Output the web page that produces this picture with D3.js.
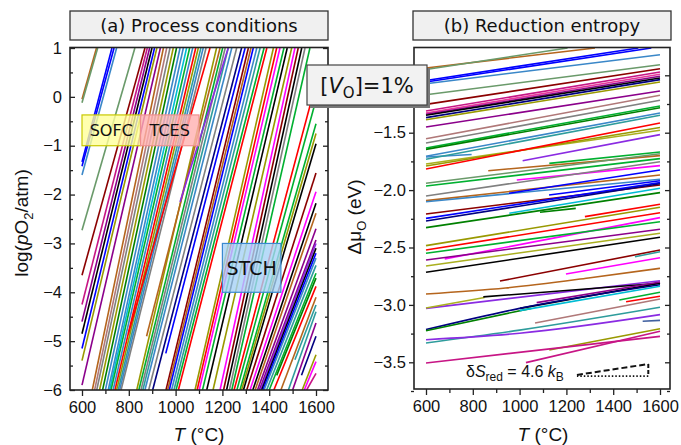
<!DOCTYPE html>
<html>
<head>
<meta charset="utf-8">
<script src="https://cdn.jsdelivr.net/npm/d3@7"></script>
<style>
  body { margin: 0; background: #fff; }
  text { fill: #111; }
</style>
</head>
<body>
<svg id="chart" width="681" height="445"></svg>
<script>
// ---------- data ----------
const tempTicks = [600, 800, 1000, 1200, 1400, 1600];
const tempMinorTicks = [700, 900, 1100, 1300, 1500];
const pO2Ticks = [1, 0, -1, -2, -3, -4, -5, -6];
const pO2MinorTicks = [0.5, -0.5, -1.5, -2.5, -3.5, -4.5, -5.5];
const muTicks = [-1.0, -1.5, -2.0, -2.5, -3.0, -3.5];
const muMinorTicks = [-1.25, -1.75, -2.25, -2.75, -3.25, -3.75];
// the -1.0 tick label sits under the [V_O] badge
const muHiddenLabels = [-1.0];

// log(pO2/atm) vs T (°C) for each compound: [T, logpO2] points
const pO2Curves = [
  [[600,-0.05],[662,1]], [[600,-0.12],[667,1]], [[600,-1.33],[728,1]], [[600,-1.42],[737,1]],
  [[600,-1.6],[748,1]], [[600,-2.73],[826,1]], [[600,-3.65],[869,1]], [[600,-4.25],[879,1]],
  [[600,-4.6],[889,1]], [[600,-4.85],[899,1]], [[600,-5.15],[910,1]], [[600,-5.4],[920,1]],
  [[600,-5.9],[935,1]],
  [[644,-6],[948,1]], [[654,-6],[962,1]], [[663,-6],[976,1]], [[675,-6],[990,1]],
  [[688,-6],[1004,1]], [[700,-6],[1019,1]], [[712,-6],[1033,1]], [[718,-6],[1047,1]],
  [[724,-6],[1060,1]], [[733,-6],[1073,1]], [[741,-6],[1086,1]], [[748,-6],[1097,1]],
  [[755,-6],[1108,1]], [[761,-6],[1118,1]], [[767,-6],[1130,1]],
  [[798,-4.85],[1147,1]], [[834,-6],[1175,1]], [[843,-6],[1201,1]], [[852,-6],[1212,1]],
  [[860,-6],[1225,1]], [[869,-6],[1240,1]], [[876,-4.9],[1190,1]], [[885,-6],[1261,1]],
  [[902,-6],[1282,1]], [[958,-5.25],[1297,1]], [[959,-6],[1311,1]], [[966,-6],[1322,1]],
  [[973,-6],[1332,1]], [[983,-6],[1347,1]], [[993,-6],[1361,1]], [[1002,-6],[1378,1]],
  [[1012,-6],[1390,1]], [[1019,-2.15],[1225,1]], [[1083,-6],[1418,1]], [[1092,-6],[1432,1]],
  [[1101,-6],[1446,1]], [[1115,-6],[1463,1]], [[1133,-6],[1477,1]], [[1160,-6],[1496,1]],
  [[1190,-6],[1510,1]], [[1205,-6],[1524,1]], [[1218,-6],[1539,1]], [[1230,-6],[1553,1]],
  [[1240,-6],[1574,1]],
  [[1250,-6],[1600,0.28]], [[1262,-6],[1600,-0.06]], [[1275,-6],[1600,-0.55]], [[1282,-6],[1600,-0.75]],
  [[1290,-6],[1600,-0.96]], [[1304,-6],[1600,-1.56]], [[1318,-6],[1600,-1.94]], [[1330,-6],[1600,-2.18]],
  [[1340,-6],[1600,-2.38]], [[1350,-6],[1600,-2.7]], [[1358,-6],[1600,-2.93]], [[1363,-6],[1600,-3.0]],
  [[1368,-6],[1600,-3.1]], [[1373,-6],[1600,-3.2]], [[1378,-6],[1600,-3.3]], [[1389,-6],[1600,-3.45]],
  [[1400,-6],[1600,-3.61]], [[1432,-5.7],[1600,-3.71]], [[1420,-6],[1600,-3.88]], [[1450,-6],[1600,-4.1]],
  [[1482,-6],[1600,-4.4]], [[1510,-5.38],[1600,-4.26]], [[1500,-6],[1600,-4.63]], [[1538,-5.7],[1600,-4.9]],
  [[1541,-6],[1600,-5.28]], [[1550,-6],[1600,-5.42]], [[1560,-6],[1600,-5.66]]
];

// oxygen chemical potential Δμ_O (eV) vs T (°C): [T, Δμ_O] points
const muCurves = [
  [[600,-0.937],[1322,-0.762]], [[600,-0.95],[1205,-0.762]], [[600,-1.045],[1507,-0.762]],
  [[600,-1.058],[1563,-0.762]], [[600,-1.073],[1600,-0.821]], [[600,-1.169],[1600,-0.908]],
  [[600,-1.253],[1600,-0.943]], [[600,-1.311],[1600,-0.971]], [[600,-1.328],[1600,-0.991]],
  [[600,-1.340],[1600,-1.009]], [[600,-1.348],[1600,-1.023]], [[600,-1.369],[1600,-1.038]],
  [[600,-1.387],[1600,-1.058]], [[600,-1.450],[1600,-1.137]], [[600,-1.552],[1600,-1.174]],
  [[600,-1.590],[1600,-1.218]], [[600,-1.633],[1600,-1.267]], [[600,-1.645],[1600,-1.282]],
  [[600,-1.705],[1600,-1.328]], [[600,-1.712],[795,-1.69]], [[600,-1.732],[1600,-1.348]],
  [[600,-1.773],[1600,-1.479]], [[600,-1.79],[1600,-1.455]], [[600,-1.816],[1600,-1.415]],
  [[1013,-1.744],[1600,-1.517]], [[1127,-1.767],[1600,-1.668]], [[866,-1.831],[1600,-1.70]],
  [[600,-1.941],[1600,-1.683]], [[600,-1.964],[1600,-1.726]], [[988,-1.912],[1600,-1.787]],
  [[600,-2.051],[1600,-1.753]], [[600,-2.092],[1600,-1.868]], [[600,-2.101],[1600,-1.905]],
  [[955,-2.028],[1600,-1.825]], [[1126,-2.043],[1600,-1.918]], [[600,-2.208],[1600,-1.955]],
  [[600,-2.246],[1600,-1.935]], [[600,-2.269],[1600,-1.945]], [[956,-2.202],[1600,-1.984]],
  [[600,-2.327],[1600,-2.022]], [[1087,-2.193],[1240,-2.159]], [[1279,-2.231],[1600,-2.124]],
  [[600,-2.484],[1600,-2.150]], [[600,-2.522],[1600,-2.197]], [[680,-2.6],[1600,-2.24]],
  [[600,-2.55],[1600,-2.275]], [[600,-2.609],[1600,-2.341]], [[600,-2.661],[1600,-2.376]],
  [[600,-2.716],[1600,-2.411]], [[916,-2.792],[1600,-2.522]], [[1493,-2.58],[1600,-2.537]],
  [[1198,-2.731],[1600,-2.589]], [[600,-2.905],[940,-2.853],[1294,-2.766],[1600,-2.681]],
  [[600,-3.03],[1600,-2.789]], [[600,-3.027],[850,-2.935]], [[845,-2.93],[1600,-2.812]],
  [[1002,-3.03],[1600,-2.81]], [[1073,-2.98],[1600,-2.80]], [[600,-3.215],[1000,-3.03],[1600,-2.825]],
  [[600,-3.225],[1050,-3.03]], [[1000,-3.05],[1600,-2.838]], [[1426,-2.957],[1600,-2.89]],
  [[1455,-2.972],[1600,-2.925]], [[1066,-3.158],[1600,-2.949]], [[600,-3.332],[1000,-3.22],[1600,-3.021]],
  [[600,-3.303],[1000,-3.247],[1600,-3.085]], [[1526,-3.143],[1600,-3.135]], [[1127,-3.393],[1600,-3.207]],
  [[600,-3.506],[1600,-3.274]], [[1027,-3.503],[1600,-3.23]]
];

// operating windows of the applications (T range °C, log pO2 range)
const processWindows = [
  { name: "SOFC", T: [600, 850],  p: [-1, -0.37] },
  { name: "TCES", T: [850, 1100], p: [-1, -0.37] },
  { name: "STCH", T: [1200, 1450], p: [-4, -3] }
];

// slope guide for δS_red = 4.6 kB: [T, Δμ_O] corners
const entropyGuideSlope = [[1245,-3.61],[1550,-3.515]];
const entropyGuideBase = [[1550,-3.62],[1245,-3.62]];
const entropyGuideSide = [[1550,-3.515],[1550,-3.62]];

// ---------- styles ----------
const palette = {
  blue: "#0000ff", sb: "#3a87c8", red: "#ff0000", grn: "#00b030", dg: "#008000",
  mag: "#ff00ff", pur: "#8b008b", vio: "#8a2be2", brn: "#b5651d", olv: "#999900",
  oy: "#aab020", gry: "#808080", blk: "#000000", dr: "#8b0000", teal: "#2e9c9c",
  cyan: "#00bcd4", mvr: "#c71585", pink: "#e8389a", navy: "#000080", gg: "#6a9a6a",
  rb: "#b07878", bg: "#4060a0"
};
const pO2CurveColors = [
  "brn","gg","blue","blue","sb","gg","dr","mvr","pur","blk","blue","olv","pur",
  "brn","rb","gry","olv","dg","sb","sb","cyan","grn","sb","red","olv","teal","sb","gry",
  "red","olv","grn","gry","teal","sb","brn","gry","navy","blue","dr","brn","blue","sb","teal","grn","red","vio","olv","red","mag","grn","blk","olv","mag","dr","blk","gry","grn",
  "red","grn","grn","olv","blk","dr","mag","blk","brn","pur","pur","vio","blk","blue","sb","teal","grn","dg","red","brn","teal","teal","pur","navy","olv","mag","mvr"
];
const muCurveColors = [
  "brn","gg","blue","blue","sb","gg","dr","mvr","pink","pur","blk","navy","olv","pur","rb","gry","grn","dg","sb","sb","teal",
  "oy","olv","red","vio","grn","brn","gg","grn","mag","gry","brn","sb","blue","blue","dr","blue","navy","cyan","dg","dg","red",
  "olv","red","mag","grn","pur","oy","blk","dr","teal","mag","brn","vio","oy","blk","blk","pur","navy","dg","cyan","grn","red",
  "rb","teal","vio","bg","olv","mvr","mvr"
];
const windowStyles = {
  SOFC: { fill: "#ffff9a", stroke: "#c8c800", size: 16 },
  TCES: { fill: "#ffb0b0", stroke: "#f09090", size: 16 },
  STCH: { fill: "#a6d2f6", stroke: "#3a8ad0", size: 19 }
};

const tickFont = "'Liberation Sans', Arial, sans-serif";
const boxFont = "'DejaVu Sans', Verdana, sans-serif";

const svg = d3.select("#chart");

// ---------- panel geometry ----------
const frameA = { x0: 70, x1: 328, y0: 47.5, y1: 390 };
const frameB = { x0: 414, x1: 670, y0: 47.5, y1: 389 };
const xA = d3.scaleLinear().domain([600, 1600]).range([82, 316]);
const yA = d3.scaleLinear().domain([-6, 1]).range([390, 48]);
const xB = d3.scaleLinear().domain([600, 1600]).range([426, 660]);
const yB = d3.scaleLinear().domain([-3.5, -1.5]).range([362.3, 132.7]);

const defs = svg.append("defs");
function clip(id, f) {
  defs.append("clipPath").attr("id", id).append("rect")
    .attr("x", f.x0).attr("y", f.y0).attr("width", f.x1 - f.x0).attr("height", f.y1 - f.y0);
}
clip("clipA", frameA);
clip("clipB", frameB);

// ---------- title boxes ----------
function titleBox(f, label) {
  svg.append("rect").attr("x", f.x0).attr("y", 11).attr("width", f.x1 - f.x0).attr("height", 29)
    .attr("fill", "#f0f0f0").attr("stroke", "#333").attr("stroke-width", 1.3);
  svg.append("text").attr("x", (f.x0 + f.x1) / 2).attr("y", 31.5).attr("text-anchor", "middle")
    .style("font-family", boxFont).style("font-size", "18px").text(label);
}
titleBox(frameA, "(a) Process conditions");
titleBox({ x0: 413, x1: 671 }, "(b) Reduction entropy");

// ---------- curves ----------
const lineA = d3.line().x(d => xA(d[0])).y(d => yA(d[1]));
const lineB = d3.line().x(d => xB(d[0])).y(d => yB(d[1])).curve(d3.curveMonotoneX);

svg.append("g").attr("clip-path", "url(#clipA)")
  .selectAll("path").data(pO2Curves).join("path")
  .attr("d", lineA).attr("fill", "none")
  .attr("stroke", (d, i) => palette[pO2CurveColors[i % pO2CurveColors.length]])
  .attr("stroke-width", 1.6);

svg.append("g").attr("clip-path", "url(#clipB)")
  .selectAll("path").data(muCurves).join("path")
  .attr("d", lineB).attr("fill", "none")
  .attr("stroke", (d, i) => palette[muCurveColors[i % muCurveColors.length]])
  .attr("stroke-width", 1.6);

// ---------- process windows ----------
const win = svg.append("g").selectAll("g").data(processWindows).join("g");
win.append("rect")
  .attr("x", d => xA(d.T[0])).attr("y", d => yA(d.p[1]))
  .attr("width", d => xA(d.T[1]) - xA(d.T[0])).attr("height", d => yA(d.p[0]) - yA(d.p[1]))
  .attr("fill", d => windowStyles[d.name].fill).attr("fill-opacity", 0.8)
  .attr("stroke", d => windowStyles[d.name].stroke).attr("stroke-width", 1.2);
win.append("text")
  .attr("x", d => (xA(d.T[0]) + xA(d.T[1])) / 2)
  .attr("y", d => (yA(d.p[0]) + yA(d.p[1])) / 2)
  .attr("dy", "0.36em").attr("text-anchor", "middle")
  .style("font-family", boxFont).style("font-size", d => windowStyles[d.name].size + "px")
  .text(d => d.name);

// ---------- frames & axes ----------
function frame(f) {
  svg.append("rect").attr("x", f.x0).attr("y", f.y0).attr("width", f.x1 - f.x0).attr("height", f.y1 - f.y0)
    .attr("fill", "none").attr("stroke", "#222").attr("stroke-width", 1.6);
}
function axis(gen, tf, labels) {
  const g = svg.append("g").attr("transform", tf).call(gen);
  g.select(".domain").remove();
  g.selectAll(".tick line").attr("stroke", "#222").attr("stroke-width", 1.3);
  g.selectAll(".tick text").style("font-family", tickFont).style("font-size", "16.5px").attr("fill", "#111");
  if (!labels) g.selectAll(".tick text").remove();
  return g;
}
frame(frameA);
frame(frameB);

// panel (a)
axis(d3.axisBottom(xA).tickValues(tempTicks).tickSize(6).tickPadding(5).tickFormat(d3.format("d")), `translate(0,${frameA.y1})`, true);
axis(d3.axisBottom(xA).tickValues(tempMinorTicks).tickSize(4), `translate(0,${frameA.y1})`, false);
axis(d3.axisLeft(yA).tickValues(pO2Ticks).tickSize(-5).tickPadding(8).tickFormat(d3.format("d")), `translate(${frameA.x0},0)`, true);
axis(d3.axisLeft(yA).tickValues(pO2MinorTicks).tickSize(-3), `translate(${frameA.x0},0)`, false);
axis(d3.axisRight(yA).tickValues(pO2Ticks).tickSize(-5), `translate(${frameA.x1},0)`, false);
axis(d3.axisRight(yA).tickValues(pO2MinorTicks).tickSize(-3), `translate(${frameA.x1},0)`, false);

// panel (b)
const muFormat = d3.format(".1f");
axis(d3.axisBottom(xB).tickValues(tempTicks).tickSize(6).tickPadding(5).tickFormat(d3.format("d")), `translate(0,${frameB.y1})`, true);
axis(d3.axisBottom(xB).tickValues(tempMinorTicks).tickSize(4), `translate(0,${frameB.y1})`, false);
axis(d3.axisLeft(yB).tickValues(muTicks).tickSize(5).tickPadding(3)
  .tickFormat(d => muHiddenLabels.includes(d) ? "" : muFormat(d)), `translate(${frameB.x0},0)`, true);
axis(d3.axisLeft(yB).tickValues(muMinorTicks).tickSize(3), `translate(${frameB.x0},0)`, false);
axis(d3.axisRight(yB).tickValues(muTicks).tickSize(-5), `translate(${frameB.x1},0)`, false);
axis(d3.axisRight(yB).tickValues(muMinorTicks).tickSize(-3), `translate(${frameB.x1},0)`, false);

// ---------- axis titles ----------
function xTitle(cx) {
  const t = svg.append("text").attr("x", cx).attr("y", 441).attr("text-anchor", "middle")
    .style("font-family", tickFont).style("font-size", "19px");
  t.append("tspan").style("font-style", "italic").text("T");
  t.append("tspan").text(" (°C)");
}
xTitle(199);
xTitle(543);

const yTa = svg.append("text").attr("transform", "translate(28,223) rotate(-90)").attr("text-anchor", "middle")
  .style("font-family", tickFont).style("font-size", "19px");
yTa.append("tspan").text("log(");
yTa.append("tspan").style("font-style", "italic").text("p");
yTa.append("tspan").text("O");
yTa.append("tspan").attr("dy", 5).style("font-size", "13px").text("2");
yTa.append("tspan").attr("dy", -5).text("/atm)");

const yTb = svg.append("text").attr("transform", "translate(361,217) rotate(-90)").attr("text-anchor", "middle")
  .style("font-family", tickFont).style("font-size", "19px");
yTb.append("tspan").text("Δμ");
yTb.append("tspan").attr("dy", 5).style("font-size", "13px").text("O");
yTb.append("tspan").attr("dy", -5).text(" (eV)");

// ---------- δS_red guide ----------
const guide = d3.line().x(d => xB(d[0])).y(d => yB(d[1]));
svg.append("path").attr("d", guide(entropyGuideSlope)).attr("fill", "none")
  .attr("stroke", "#111").attr("stroke-width", 2).attr("stroke-dasharray", "6,3");
svg.append("path").attr("d", guide(entropyGuideSide)).attr("fill", "none")
  .attr("stroke", "#111").attr("stroke-width", 2).attr("stroke-dasharray", "4,2");
svg.append("path").attr("d", guide(entropyGuideBase)).attr("fill", "none")
  .attr("stroke", "#111").attr("stroke-width", 1.8).attr("stroke-dasharray", "1.5,2");

const sLab = svg.append("text").attr("x", 466).attr("y", 377)
  .style("font-family", tickFont).style("font-size", "16px");
sLab.append("tspan").text("δ");
sLab.append("tspan").style("font-style", "italic").text("S");
sLab.append("tspan").attr("dy", 4).style("font-size", "12px").text("red");
sLab.append("tspan").attr("dy", -4).text(" = 4.6 ");
sLab.append("tspan").style("font-style", "italic").text("k");
sLab.append("tspan").attr("dy", 4).style("font-size", "12px").text("B");

// ---------- vacancy concentration badge ----------
const badge = svg.append("g");
badge.append("rect").attr("x", 310).attr("y", 68).attr("width", 120).attr("height", 40).attr("fill", "#777");
badge.append("rect").attr("x", 307).attr("y", 65).attr("width", 120).attr("height", 40)
  .attr("fill", "#f2f2f2").attr("stroke", "#444").attr("stroke-width", 1.2);
const bt = badge.append("text").attr("x", 367).attr("y", 93).attr("text-anchor", "middle")
  .style("font-family", boxFont).style("font-size", "21px");
bt.append("tspan").text("[");
bt.append("tspan").style("font-style", "italic").text("V");
bt.append("tspan").attr("dy", 5).style("font-size", "15px").text("O");
bt.append("tspan").attr("dy", -5).text("]=1%");
</script>
</body>
</html>
